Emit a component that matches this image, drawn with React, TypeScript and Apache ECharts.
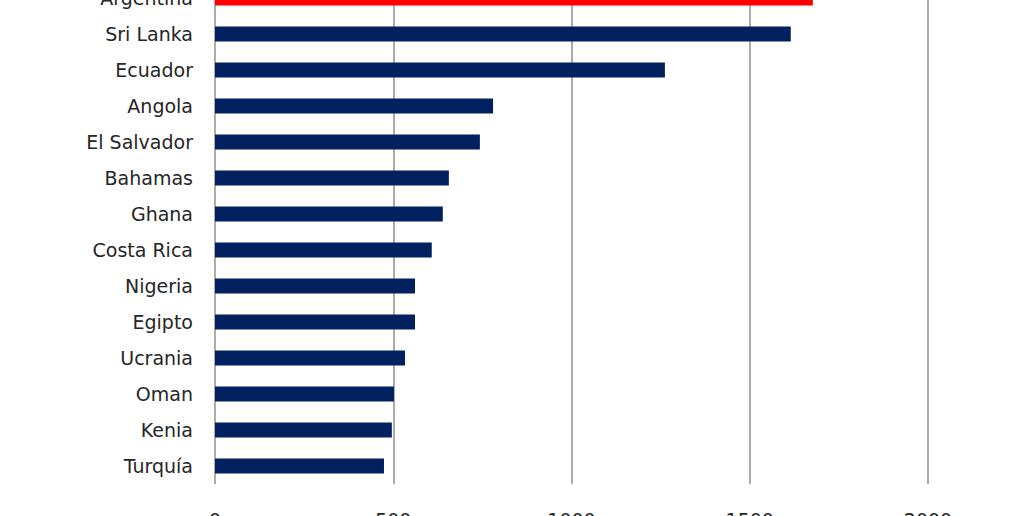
import React, { useEffect, useRef } from "react";
import * as echarts from "echarts";

const countries = [
  "Argentina", "Sri Lanka", "Ecuador", "Angola", "El Salvador", "Bahamas", "Ghana",
  "Costa Rica", "Nigeria", "Egipto", "Ucrania", "Oman", "Kenia", "Turquía",
];
const spreads = [1677, 1615, 1262, 780, 743, 656, 639, 608, 561, 561, 533, 502, 496, 474];
const highlight = "Argentina";
const xTicks = [0, 500, 1000, 1500, 2000];

export default function App() {
  const ref = useRef<HTMLDivElement>(null);
  useEffect(() => {
    if (!ref.current) return;
    const chart = echarts.init(ref.current, null, { renderer: "svg" });
    chart.setOption({
      animation: false,
      backgroundColor: "#ffffff",
      grid: { left: 215, right: 96, top: 20, bottom: 76, containLabel: false },
      xAxis: {
        type: "value",
        min: xTicks[0],
        max: xTicks[xTicks.length - 1],
        interval: 500,
        axisLine: { show: false },
        axisTick: { show: false },
        splitLine: { show: true, lineStyle: { color: "#8f8f8f", width: 1.5 } },
        axisLabel: {
          margin: 26,
          color: "#262626",
          fontFamily: "DejaVu Sans",
          fontSize: 19,
          formatter: (v: number) => String(v),
        },
      },
      yAxis: {
        type: "category",
        inverse: true,
        data: countries,
        axisLine: { show: false },
        axisTick: { show: false },
        axisLabel: {
          margin: 22,
          color: "#262626",
          fontFamily: "DejaVu Sans",
          fontSize: 19,
        },
      },
      series: [
        {
          type: "bar",
          barWidth: 15,
          data: spreads.map((v, i) => ({
            value: v,
            itemStyle: { color: countries[i] === highlight ? "#ff0000" : "#002060" },
          })),
        },
      ],
    });
    return () => chart.dispose();
  }, []);
  return (
    <div style={{ position: "fixed", left: 0, top: 0, width: 1024, height: 516, overflow: "hidden", background: "#fff" }}>
      <div ref={ref} style={{ position: "absolute", left: 0, top: -40, width: 1024, height: 600 }} />
    </div>
  );
}
